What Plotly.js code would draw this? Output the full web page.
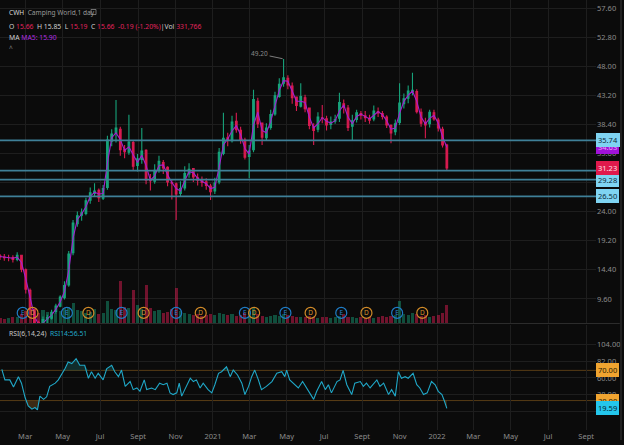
<!DOCTYPE html>
<html><head><meta charset="utf-8">
<script src="https://cdn.plot.ly/plotly-3.0.1.min.js"></script>
<style>html,body{margin:0;padding:0;background:#0b0b0b;}#chart{width:624px;height:445px;}</style>
</head><body><div id="chart"></div>
<script>
// ---- DATA (weekly bars starting 2020-01-20) ----
const startDate = '2020-01-20';
const openP = [16.7,16.5,16.4,16.4,16.1,16.8,14.4,11.0,7.9,5.7, 5.0,6.3,6.4,7.5,8.4,9.8,11.9,17.2,22.0,23.4, 23.7,25.9,27.0,27.5,26.2,28.0,35.6,36.9,37.6,34.3, 33.8,35.4,31.6,32.6,34.1,29.3,29.0,30.9,32.1,31.3, 28.8,28.6,27.0,27.9,30.2,31.1,29.6,29.3,28.9,28.2, 27.4,28.9,33.6,36.2,35.7,38.9,37.4,35.8,33.1,34.2, 42.2,38.6,36.2,37.9,40.1,43.0,45.2,46.0,44.7,42.9, 41.4,42.8,41.1,38.0,37.6,39.5,39.3,38.4,38.9,39.4, 41.8,41.1,38.1,39.2,40.2,39.8,39.4,39.3,40.5,40.2, 39.6,38.2,37.2,38.7,41.8,42.7,43.8,43.8,40.4,38.7, 38.5,40.3,39.1,37.6,35.0];
const highP = [17.0,17.0,16.9,16.8,17.3,16.9,14.6,11.3,8.0,6.0, 6.7,7.0,7.8,8.8,10.2,12.5,17.5,22.6,24.0,24.5, 26.3,28.0,28.7,27.8,28.4,36.5,37.6,42.4,38.0,35.0, 40.0,35.8,33.5,37.8,34.3,30.2,31.8,33.2,32.5,31.5, 29.4,28.8,29.0,31.5,32.0,31.2,30.3,29.8,29.5,28.6, 29.6,34.5,40.3,37.0,39.8,40.3,38.0,36.2,35.0,44.1, 42.8,38.6,38.6,40.8,43.8,46.0,49.2,46.5,45.3,43.0, 45.2,43.3,41.2,38.6,40.4,41.6,39.8,39.7,40.0,43.6, 42.5,41.6,40.0,40.8,40.6,40.6,40.0,41.5,41.2,40.6, 39.9,38.4,39.2,45.2,43.5,44.8,46.9,44.2,41.0,39.5, 40.8,40.8,39.5,38.0,35.2];
const lowP = [16.0,15.9,15.8,15.6,15.8,14.0,10.5,7.0,3.8,3.5, 4.6,5.6,6.2,7.2,8.2,9.5,11.6,16.8,21.5,22.5, 23.4,25.3,26.4,25.6,25.9,27.6,34.8,35.4,33.2,32.8, 33.4,30.8,30.6,31.9,28.5,27.5,28.6,30.4,30.2,28.2, 26.0,22.6,26.5,27.5,29.6,28.9,28.3,28.1,27.6,25.9, 26.9,28.5,33.3,34.8,35.4,37.0,35.2,32.6,29.5,33.8, 37.8,35.0,35.8,37.5,39.8,42.8,44.6,44.2,41.8,40.6, 41.2,40.4,37.6,35.0,37.1,38.6,37.4,37.6,38.5,38.8, 40.2,37.3,35.8,38.7,39.2,38.8,38.5,38.9,39.6,39.2, 37.8,35.3,36.6,38.3,41.0,41.9,43.2,40.2,38.0,36.1, 37.9,39.0,37.2,34.6,30.8];
const closeP = [16.5,16.4,16.4,16.1,16.8,14.5,11.2,7.8,5.6,5.0, 6.2,6.5,7.4,8.4,9.9,11.8,17.0,22.1,23.3,23.8, 25.8,27.1,27.4,26.3,27.8,35.8,36.8,37.8,34.2,33.9, 35.5,31.5,32.7,34.0,29.2,29.1,30.8,32.3,31.2,28.9, 28.7,26.9,27.8,30.3,31.0,29.7,29.2,28.8,28.3,27.3, 28.7,33.8,36.1,35.8,38.8,37.5,35.9,33.0,34.0,42.5, 38.5,36.3,37.8,40.0,43.1,45.0,46.1,44.9,42.8,41.5, 43.0,41.0,38.2,37.4,39.6,39.4,38.3,38.8,39.2,42.0, 41.2,37.9,39.0,40.3,39.9,39.5,39.1,40.6,40.3,39.7, 38.3,37.0,38.5,41.9,42.6,43.9,44.0,40.5,38.6,38.3, 40.4,39.3,37.8,35.0,31.2];
const ma5 = [16.6,16.5,16.4,16.3,16.5,15.6,12.9,9.6,6.8,5.3, 5.6,6.3,6.9,7.9,9.1,10.8,14.3,19.6,22.7,23.6, 24.8,26.5,27.2,26.9,27.0,32.0,36.2,37.0,35.9,34.1, 34.7,33.4,32.1,33.3,31.6,29.2,29.9,31.6,31.7,30.1, 28.8,27.8,27.4,29.1,30.6,30.4,29.5,29.0,28.6,27.8, 28.0,31.3,35.0,36.0,37.3,38.2,36.7,34.4,33.5,38.3, 40.4,37.4,37.0,38.9,41.6,44.0,45.6,45.5,43.9,42.2, 42.2,42.0,39.6,37.8,38.5,39.5,38.9,38.6,39.0,40.6, 41.6,39.6,38.5,39.7,40.1,39.7,39.3,39.9,40.5,40.0, 39.0,37.6,37.8,40.2,42.2,43.2,43.9,42.2,39.6,38.5, 39.4,39.9,38.6,36.4,34.6];
const volumeM = [0.5,0.4,0.5,0.6,0.6,0.9,1.2, 1.4,1.2,1.0,1.3,1.1,0.9, 1.0,1.2,1.5,1.6, 2.0,1.3,1.2,1.0,1.1,1.4,0.9,1.0, 2.2, 1.4,1.3, 4.2, 1.6, 1.5, 3.3, 1.8, 1.4, 3.8, 1.5,1.2,1.3,1.0,1.1, 1.4, 3.5, 1.2,1.0,0.9,0.8,0.9,0.7,0.8, 0.9,0.8,1.0,0.9,0.8,0.9,0.7,0.8,1.0, 1.2, 1.5, 0.9,0.7,0.6,0.7,0.8,0.7,0.9,0.8,0.7,0.6,0.6, 0.6,0.7,0.6,0.5,0.6,0.6,0.5,0.6,0.7,0.9,0.6,0.6,0.5,0.6,0.5,0.6,0.5,0.6,0.7,0.6, 0.7,0.8, 2.2, 0.9,0.8,1.0,0.9,0.7,0.8,0.6,0.7,0.8,1.0, 1.8];
// RSI(14) samples: day offset from startDate, value
const rsiDay = [3,8,16,22,30,35,41,46,52,57,61,65,71,76,81,90,95,100,106,111,117,124,130,138,144,149,155,160,168,174,182,187,193,198,204,212,217,223,228,235,239,247,253,260,266,272,277,282,288,292,296,301,310,315,320,326,331,339,345,350,356,361,369,375,380,387,394,399,405,410,415,421,426,434,443,451,459,464,467,472,481,486,493,500,505,511,516,524,530,535,540,549,554,559,565,573,578,587,592,597,603,608,614,619,625,633,638,644,649,654,660,665,673,679,684,690,696,703,709,714,720,724,728];
const rsiVal = [71.3,57.4,57.4,48,61.7,53.1,33.7,22.9,18.6,20.8,17.7,35.9,31.6,35,48.8,53.1,57.4,63.9,72.5,81.1,79,85.5,76.8,76.8,59.6,68.2,59.6,66.1,57.4,72.5,76.8,68.2,61.7,70.4,48.8,55.2,44.5,46.7,42.3,57.4,44.5,46.7,44.5,53.1,51,53.1,40.2,38,40.2,53.1,35.9,44.5,59.6,55.2,57.4,46.7,53.1,44.5,40.2,51,66.1,68.2,74.7,61.7,70.4,63.9,53.1,38,48.8,61.7,70.4,57.4,44.5,48.8,55.2,66.1,68.2,61.7,70.4,57.4,51,46.7,55.2,46.7,40.2,31.6,42.3,55.2,44.5,51,40.2,55.2,57.4,70,51,38,53.1,55.2,48.8,53.1,46.7,51,57.4,48.8,53.1,38,44.5,35.9,68.2,59.6,61.7,59.6,66.1,51,46.7,38,40.2,55.2,51,42.3,38,29.4,19.6];
const earnDates = ['2020-02-26','2020-05-08','2020-08-05','2020-11-02','2021-02-22','2021-04-29','2021-07-29','2021-10-28'];
const divDates  = ['2020-03-13','2020-06-12','2020-09-10','2020-12-12','2021-03-09','2021-06-09','2021-09-08','2021-12-08'];
const levels = [35.74, 30.75, 29.28, 26.50];
const levelLabels = [35.74, 29.28, 26.50];
const lastPrice = 31.23;
const maLast = 34.63;
const peakPrice = 49.20;
const rsiLast = 19.59;
const priceTicks = [9.6, 14.4, 19.2, 24.0, 28.8, 33.6, 38.4, 43.2, 48.0, 52.8, 57.6];
const priceTickHidden = [28.8];           // covered by a level label in the reference
const rsiTicks = [16, 38, 60, 82, 104];
const rsiTickHidden = [16];
const xTickVals = ['2020-03-01','2020-05-01','2020-07-01','2020-09-01','2020-11-01','2021-01-01','2021-03-01','2021-05-01','2021-07-01','2021-09-01','2021-11-01','2022-01-01','2022-03-01','2022-05-01','2022-07-01','2022-09-01'];
const xTickText = ['Mar','May','Jul','Sept','Nov','2021','Mar','May','Jul','Sept','Nov','2022','Mar','May','Jul','Sept'];

// ---- helpers ----
const t0 = Date.parse(startDate + 'T00:00:00Z');
const dayToDate = d => new Date(t0 + d * 86400000).toISOString().slice(0, 10);
const barDates = closeP.map((_, i) => dayToDate(7 * i));
const rsiDates = rsiDay.map(dayToDate);
const W = 596, H = 430;             // plot area in px
const px = x => x / W, py = y => 1 - y / H;

const UP = '#17a27a', DOWN = '#d81b50';
const volColors = closeP.map((c, i) => c >= openP[i] ? 'rgba(23,162,122,0.45)' : 'rgba(216,27,80,0.5)');
const peakIdx = highP.indexOf(Math.max(...highP));

const traces = [
  { type: 'bar', x: barDates, y: volumeM, yaxis: 'y3', xaxis: 'x',
    width: 5 * 86400000, marker: { color: volColors, line: { width: 0 } }, hoverinfo: 'skip' },
  { type: 'candlestick', x: barDates, open: openP, high: highP, low: lowP, close: closeP,
    xaxis: 'x', yaxis: 'y', whiskerwidth: 0,
    increasing: { line: { color: UP, width: 1.1 }, fillcolor: UP },
    decreasing: { line: { color: DOWN, width: 1.1 }, fillcolor: DOWN }, hoverinfo: 'skip' },
  { type: 'scatter', mode: 'lines', x: barDates, y: ma5, xaxis: 'x', yaxis: 'y',
    line: { color: '#a51fd0', width: 1.1 }, hoverinfo: 'skip' },
  { type: 'scatter', mode: 'markers+text', x: earnDates, y: earnDates.map(() => 1.0), yaxis: 'y3', xaxis: 'x',
    text: earnDates.map(() => 'E'), textposition: 'middle center',
    textfont: { size: 6.5, color: '#2a86d0', family: 'Noto Sans' },
    marker: { symbol: 'circle-open', size: 11, color: '#1f7cc6', line: { width: 1.2 } }, hoverinfo: 'skip' },
  { type: 'scatter', mode: 'markers+text', x: divDates, y: divDates.map(() => 1.0), yaxis: 'y3', xaxis: 'x',
    text: divDates.map(() => 'D'), textposition: 'middle center',
    textfont: { size: 6.5, color: '#d8922e', family: 'Noto Sans' },
    marker: { symbol: 'circle-open', size: 11, color: '#d08a28', line: { width: 1.2 } }, hoverinfo: 'skip' },
  // RSI shading
  { type: 'scatter', mode: 'lines', x: rsiDates, y: rsiDates.map(() => 70), yaxis: 'y2', xaxis: 'x',
    line: { width: 0 }, hoverinfo: 'skip' },
  { type: 'scatter', mode: 'lines', x: rsiDates, y: rsiVal.map(v => Math.max(v, 70)), yaxis: 'y2', xaxis: 'x',
    line: { width: 0 }, fill: 'tonexty', fillcolor: 'rgba(25,110,105,0.35)', hoverinfo: 'skip' },
  { type: 'scatter', mode: 'lines', x: rsiDates, y: rsiDates.map(() => 30), yaxis: 'y2', xaxis: 'x',
    line: { width: 0 }, hoverinfo: 'skip' },
  { type: 'scatter', mode: 'lines', x: rsiDates, y: rsiVal.map(v => Math.min(v, 30)), yaxis: 'y2', xaxis: 'x',
    line: { width: 0 }, fill: 'tonexty', fillcolor: 'rgba(120,80,30,0.45)', hoverinfo: 'skip' },
  { type: 'scatter', mode: 'lines', x: rsiDates, y: rsiVal, yaxis: 'y2', xaxis: 'x',
    line: { color: '#20a8c8', width: 1.1 }, hoverinfo: 'skip' }
];

const gridC = '#1e1e1e';
const tickFont = { family: 'Noto Sans', size: 7.5, color: '#8c8c8c' };

const shapes = [];
levels.forEach(v => shapes.push({ type: 'line', xref: 'paper', x0: 0, x1: 1, yref: 'y', y0: v, y1: v,
  line: { color: '#3f8098', width: 1.8 }, layer: 'above' }));
[70, 30].forEach(v => shapes.push({ type: 'line', xref: 'paper', x0: 0, x1: 1, yref: 'y2', y0: v, y1: v,
  line: { color: 'rgba(150,100,30,0.55)', width: 1 }, layer: 'below' }));
shapes.push({ type: 'line', xref: 'paper', x0: 0, x1: 1.04, yref: 'paper', y0: py(323.5), y1: py(323.5),
  line: { color: '#2c2c2c', width: 1.2 } });
shapes.push({ type: 'line', xref: 'paper', x0: px(621), x1: px(621), yref: 'paper', y0: py(0), y1: py(440),
  line: { color: '#2a2a2a', width: 1.5 } });
shapes.push({ type: 'rect', xref: 'paper', yref: 'paper', x0: px(91), x1: px(96), y0: py(14.5), y1: py(9.5),
  line: { color: '#888', width: 0.8 } });

const lbl = (yref, v, text, bg, fg) => ({ xref: 'paper', x: 1, xanchor: 'left', yref, y: v, yanchor: 'middle',
  text, showarrow: false, bgcolor: bg, bordercolor: bg, borderpad: 1,
  font: { family: 'Noto Sans', size: 7.5, color: fg } });

const annotations = [
  lbl('y', maLast, maLast.toFixed(2), '#a012d8', '#e6a8f5'),
  ...levelLabels.map(v => lbl('y', v, v.toFixed(2), '#7fd4f2', '#0b2a3a')),
  lbl('y', lastPrice, lastPrice.toFixed(2), '#e0194c', '#ffe0e8'),
  lbl('y2', 70, '70.00', '#f0a430', '#2a1a00'),
  lbl('y2', 30, '30.00', '#f0a430', '#2a1a00'),
  lbl('y2', rsiLast, rsiLast.toFixed(2), '#24c6ec', '#062430'),
  { xref: 'x', yref: 'y', x: barDates[peakIdx], y: peakPrice, text: peakPrice.toFixed(2),
    showarrow: true, arrowhead: 0, arrowwidth: 0.8, arrowcolor: '#999', ax: -24, ay: -5, standoff: 1,
    font: { family: 'Noto Sans', size: 6.5, color: '#8a8a8a' } },
  { xref: 'paper', yref: 'paper', x: px(7), y: py(12), xanchor: 'left', yanchor: 'middle', showarrow: false,
    text: '<span style="color:#d8d8d8">CWH</span>  <span style="color:#9a9a9a">Camping World,1 day</span>',
    font: { family: 'Noto Sans', size: 6.6, color: '#ccc' } },
  { xref: 'paper', yref: 'paper', x: px(7), y: py(26), xanchor: 'left', yanchor: 'middle', showarrow: false,
    text: 'O <span style="color:#e0245e">15.66</span>  H <span style="color:#d0d0d0">15.85</span>  L <span style="color:#e0245e">15.19</span>  C <span style="color:#e0245e">15.66</span>  <span style="color:#e0245e">-0.19 (-1.20%)</span>|Vol <span style="color:#e0245e">331,766</span>',
    font: { family: 'Noto Sans', size: 6.8, color: '#d0d0d0' } },
  { xref: 'paper', yref: 'paper', x: px(7), y: py(38), xanchor: 'left', yanchor: 'middle', showarrow: false,
    text: 'MA <span style="color:#b02ee0">MA5: 15.90</span>',
    font: { family: 'Noto Sans', size: 6.8, color: '#d0d0d0' } },
  { xref: 'paper', yref: 'paper', x: px(7), y: py(48), xanchor: 'left', yanchor: 'middle', showarrow: false,
    text: '^', font: { family: 'Noto Sans', size: 6.5, color: '#888' } },
  { xref: 'paper', yref: 'paper', x: px(7), y: py(333), xanchor: 'left', yanchor: 'middle', showarrow: false,
    text: 'RSI(6,14,24)  <span style="color:#22a8c8">RSI14:56.51</span>',
    font: { family: 'Noto Sans', size: 6.8, color: '#c8c8c8' } }
];

const layout = {
  width: 624, height: 445,
  margin: { l: 0, r: 28, t: 0, b: 15 },
  paper_bgcolor: '#0b0b0b', plot_bgcolor: '#0b0b0b',
  showlegend: false, dragmode: false, boxgap: 0.45, bargap: 0,
  xaxis: { type: 'date', range: ['2020-01-20', '2022-09-17'], anchor: 'y2',
    rangeslider: { visible: false }, showgrid: true, gridcolor: gridC, gridwidth: 1,
    tickvals: xTickVals, ticktext: xTickText, tickfont: tickFont, ticks: '', zeroline: false,
    showline: false, fixedrange: true },
  yaxis: { domain: [py(323), 1], range: [5.62, 58.92], side: 'right', anchor: 'x',
    tickvals: priceTicks, ticktext: priceTicks.map(v => priceTickHidden.includes(v) ? '' : v.toFixed(2)),
    tickfont: tickFont, showgrid: true, gridcolor: gridC,
    zeroline: false, ticks: '', fixedrange: true },
  yaxis3: { overlaying: 'y', range: [0, 32], visible: false, fixedrange: true },
  yaxis2: { domain: [0, py(324.5)], range: [-9, 130.8], side: 'right', anchor: 'x',
    tickvals: rsiTicks, ticktext: rsiTicks.map(v => rsiTickHidden.includes(v) ? '' : v.toFixed(2)),
    tickfont: tickFont, showgrid: true, gridcolor: gridC,
    zeroline: false, ticks: '', fixedrange: true },
  shapes, annotations
};

Plotly.newPlot('chart', traces, layout, { staticPlot: true, displayModeBar: false });
</script></body></html>
